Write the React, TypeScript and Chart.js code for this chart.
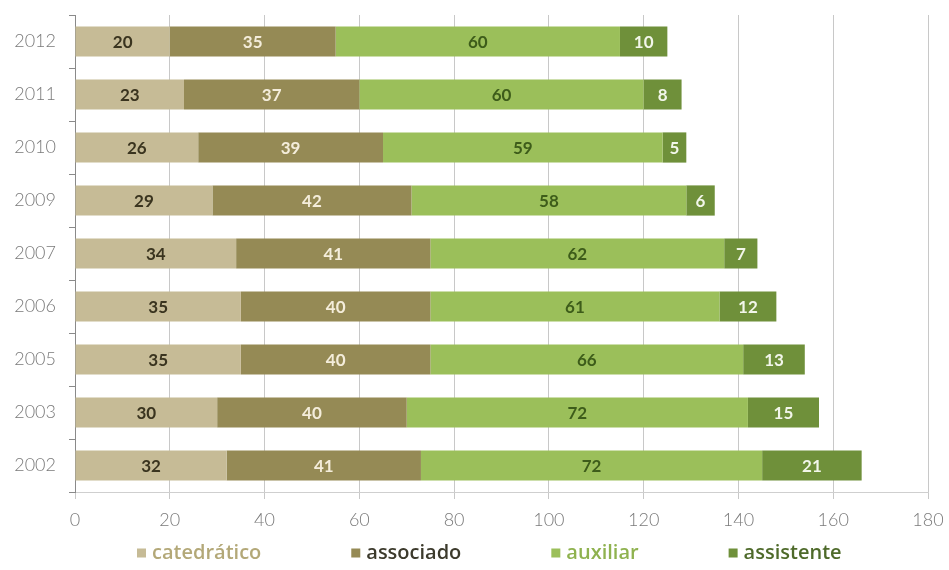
import React, { useEffect, useRef } from "react";
import { Chart, registerables } from "chart.js";

Chart.register(...registerables);

const years = ["2012", "2011", "2010", "2009", "2007", "2006", "2005", "2003", "2002"];
const catedratico = [20, 23, 26, 29, 34, 35, 35, 30, 32];
const associado = [35, 37, 39, 42, 41, 40, 40, 40, 41];
const auxiliar = [60, 60, 59, 58, 62, 61, 66, 72, 72];
const assistente = [10, 8, 5, 6, 7, 12, 13, 15, 21];
const xTicks = [0, 20, 40, 60, 80, 100, 120, 140, 160, 180];

const seriesNames = ["catedrático", "associado", "auxiliar", "assistente"];
const barColors = ["#c6bb96", "#958a55", "#9bbf5a", "#6f903a"];
const labelColors = ["#3a341f", "#f4eddb", "#3d5c1a", "#f2f6ea"];
const legendTextColors = ["#b3a878", "#3c3a2c", "#8fb24f", "#4e6a2a"];

const valueLabels = {
  id: "valueLabels",
  afterDatasetsDraw(chart: any) {
    const ctx = chart.ctx;
    ctx.save();
    ctx.font = "bold 17px Lato, 'Open Sans', sans-serif";
    ctx.textAlign = "center";
    ctx.textBaseline = "middle";
    chart.data.datasets.forEach((ds: any, i: number) => {
      const meta = chart.getDatasetMeta(i);
      meta.data.forEach((el: any, j: number) => {
        const v = ds.data[j];
        const cx = (el.x + el.base) / 2;
        ctx.fillStyle = labelColors[i];
        ctx.fillText(String(v), cx, el.y + 1);
      });
    });
    ctx.restore();
  },
};

const customLegend = {
  id: "customLegend",
  afterDraw(chart: any) {
    const ctx = chart.ctx;
    const area = chart.chartArea;
    ctx.save();
    ctx.font = "600 20px 'Open Sans', sans-serif";
    ctx.textBaseline = "middle";
    ctx.textAlign = "left";
    const box = 9;
    const gapText = 6;
    const gapItem = 90;
    let x = area.left + 62;
    const y = 553;
    seriesNames.forEach((name, i) => {
      ctx.fillStyle = barColors[i];
      ctx.fillRect(x, y - box / 2, box, box);
      x += box + gapText;
      ctx.fillStyle = legendTextColors[i];
      ctx.fillText(name, x, y);
      x += ctx.measureText(name).width + gapItem;
    });
    ctx.restore();
  },
};

export default function App() {
  const ref = useRef<HTMLCanvasElement | null>(null);
  useEffect(() => {
    if (!ref.current) return;
    const data = [catedratico, associado, auxiliar, assistente];
    const chart = new Chart(ref.current, {
      type: "bar",
      data: {
        labels: years,
        datasets: data.map((d, i) => ({
          label: seriesNames[i],
          data: d,
          backgroundColor: barColors[i],
          borderWidth: 0,
          barPercentage: 0.57,
          categoryPercentage: 1,
        })),
      },
      options: {
        indexAxis: "y",
        animation: false,
        responsive: true,
        maintainAspectRatio: false,
        layout: { padding: { top: 15, right: 21, bottom: 40, left: 0 } },
        plugins: {
          legend: { display: false },
          tooltip: { enabled: false },
        },
        scales: {
          x: {
            stacked: true,
            min: 0,
            max: 180,
            afterBuildTicks: (scale: any) => {
              scale.ticks = xTicks.map((v) => ({ value: v }));
            },
            afterFit: (scale: any) => {
              scale.height = 38;
              scale.paddingLeft = 0;
              scale.paddingRight = 0;
            },
            grid: { color: "#c8c8c8", tickLength: 7, lineWidth: 1 },
            border: { color: "#cfcfcf" },
            ticks: {
              color: "#7a7a7a",
              font: { family: "Lato, 'Open Sans', sans-serif", size: 18, weight: "300" },
              padding: 10,
            },
          },
          y: {
            stacked: true,
            afterFit: (scale: any) => {
              scale.width = 75;
              scale.paddingTop = 0;
              scale.paddingBottom = 0;
            },
            grid: { drawOnChartArea: false, tickLength: 6, color: "#8a8a8a", offset: true },
            border: { color: "#8a8a8a" },
            ticks: {
              color: "#7a7a7a",
              font: { family: "Lato, 'Open Sans', sans-serif", size: 18, weight: "300" },
              padding: 13,
            },
          },
        },
      },
      plugins: [valueLabels, customLegend],
    });
    return () => chart.destroy();
  }, []);
  return (
    <div style={{ position: "fixed", left: 0, top: 0, width: 949, height: 570, background: "#fff" }}>
      <canvas ref={ref} />
    </div>
  );
}
